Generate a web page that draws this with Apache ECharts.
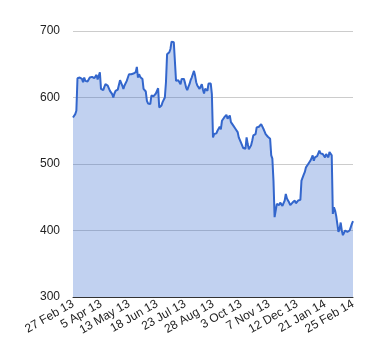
<!DOCTYPE html>
<html>
<head>
<meta charset="utf-8">
<script src="https://cdn.jsdelivr.net/npm/echarts@6/dist/echarts.min.js"></script>
<style>
html,body{margin:0;padding:0;background:#fff;}
#chart{width:380px;height:360px;}
</style>
</head>
<body>
<div id="chart"></div>
<script>
// Tick labels shown every 25 trading days
const tickLabels = ['27 Feb 13','5 Apr 13','13 May 13','18 Jun 13','23 Jul 13','28 Aug 13','3 Oct 13','7 Nov 13','12 Dec 13','21 Jan 14','25 Feb 14'];
const labelStep = 25;

// Daily closing values (251 trading days)
const values = [
570,572,575,580,629,627,630,632,628,623,
630,625,628,624,621,630,629,631,633,629,
630,634,627,625,638,613,611,611,616,620,
621,618,616,610,608,605,600,606,610,611,
612,613,626,625,618,613,618,621,625,630,
635,633,635,638,636,637,638,646,630,635,
631,628,628,613,611,609,595,591,590,590,
603,600,602,605,606,608,614,585,587,588,
593,596,600,623,665,665,668,673,684,683,
683,680,625,623,626,628,620,628,625,628,
622,615,611,616,620,626,630,635,640,633,
623,618,615,613,611,620,612,606,613,611,
610,621,618,621,605,540,545,548,546,550,
552,556,552,565,568,570,572,574,568,570,
573,563,566,558,555,553,554,548,540,538,
532,528,524,526,523,540,530,522,519,528,
535,543,540,545,555,558,556,555,560,557,
553,549,545,543,541,540,538,513,508,475,
420,418,440,437,438,442,439,437,441,445,
455,448,446,442,438,435,442,443,445,441,
440,445,443,446,475,478,484,488,495,494,
500,502,505,509,513,505,510,508,512,515,
520,516,513,515,512,510,515,513,510,518,
515,513,425,435,430,422,410,398,402,412,
400,393,396,400,397,398,399,400,403,410,
414
];
const categories = values.map((v, i) => i);

const chart = echarts.init(document.getElementById('chart'), null, {renderer: 'canvas'});
chart.setOption({
  animation: false,
  grid: {left: 73, right: 27, top: 31, bottom: 63},
  xAxis: {
    type: 'category',
    data: categories,
    boundaryGap: false,
    axisLine: {show: true, lineStyle: {color: '#333', width: 1}},
    axisTick: {show: false},
    axisLabel: {
      interval: labelStep - 1,
      rotate: 30,
      margin: 6,
      color: '#222',
      fontFamily: 'Liberation Sans, Arial, sans-serif',
      fontSize: 12,
      formatter: (val, idx) => tickLabels[Math.round(idx / labelStep)] || ''
    },
    splitLine: {show: false}
  },
  yAxis: {
    type: 'value',
    min: 300,
    max: 700,
    interval: 100,
    axisLine: {show: false},
    axisTick: {show: false},
    axisLabel: {
      margin: 13,
      color: '#222',
      fontFamily: 'Liberation Sans, Arial, sans-serif',
      fontSize: 12
    },
    splitLine: {show: true, lineStyle: {color: '#ccc', width: 1}}
  },
  series: [{
    type: 'line',
    data: values,
    showSymbol: false,
    lineStyle: {color: '#3366cc', width: 2},
    itemStyle: {color: '#3366cc'},
    areaStyle: {color: '#3366cc', opacity: 0.3, origin: 'start'}
  }]
});
</script>
</body>
</html>
